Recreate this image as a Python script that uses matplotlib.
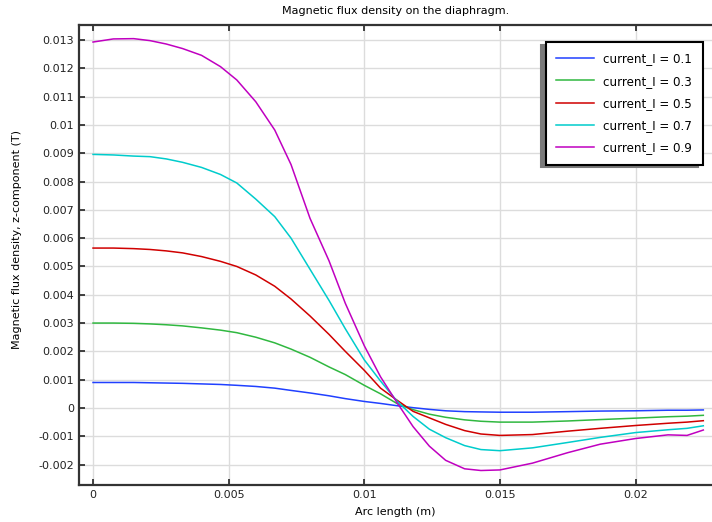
import numpy as np
import matplotlib
matplotlib.use("Agg")
import matplotlib.pyplot as plt
from matplotlib.ticker import FuncFormatter, MultipleLocator

# arc length (m)
arc = [0, 0.00075, 0.0015, 0.0021, 0.0027, 0.0033, 0.004, 0.0047, 0.0053, 0.006,
       0.0067, 0.0073, 0.008, 0.0087, 0.0093, 0.01, 0.0106, 0.0112, 0.0118, 0.0124,
       0.013, 0.0137, 0.0143, 0.015, 0.0162, 0.0175, 0.0187, 0.02, 0.0212, 0.0219, 0.0225]

bz_01 = [0.0009, 0.0009, 0.0009, 0.00089, 0.00088, 0.00087, 0.00085, 0.00083, 0.0008, 0.00076,
         0.0007, 0.00062, 0.00053, 0.00043, 0.00033, 0.00023, 0.00016, 0.00008, 0.00001, -0.00005,
         -0.0001, -0.00013, -0.00014, -0.00015, -0.00015, -0.00013, -0.00011, -0.0001, -0.00008, -0.00008, -0.00007]
bz_03 = [0.003, 0.003, 0.00299, 0.00297, 0.00294, 0.0029, 0.00283, 0.00275, 0.00266, 0.0025,
         0.0023, 0.00208, 0.00179, 0.00145, 0.00118, 0.0008, 0.0005, 0.00016, -0.00006, -0.00022,
         -0.00033, -0.00042, -0.00047, -0.0005, -0.0005, -0.00046, -0.00041, -0.00036, -0.00031, -0.00029, -0.00026]
bz_05 = [0.00565, 0.00565, 0.00563, 0.0056, 0.00555, 0.00548, 0.00535, 0.00518, 0.005, 0.0047,
         0.0043, 0.00385, 0.00325, 0.0026, 0.002, 0.00133, 0.0007, 0.00028, -0.00012, -0.00035,
         -0.00058, -0.0008, -0.00092, -0.00097, -0.00094, -0.00082, -0.00072, -0.00062, -0.00054, -0.0005, -0.00045]
bz_07 = [0.00896, 0.00894, 0.0089, 0.00888, 0.0088, 0.00868, 0.0085, 0.00825, 0.00795, 0.00738,
         0.00676, 0.006, 0.0049, 0.0038, 0.0028, 0.0017, 0.00095, 0.00025, -0.0003, -0.00075,
         -0.00105, -0.00133, -0.00147, -0.00151, -0.00141, -0.00122, -0.00104, -0.00087, -0.00077, -0.00072, -0.00063]
bz_09 = [0.01293, 0.01304, 0.01305, 0.01298, 0.01286, 0.0127, 0.01246, 0.01206, 0.01159, 0.01082,
         0.00982, 0.0086, 0.0067, 0.0052, 0.0037, 0.0022, 0.0011, 0.0002, -0.00066, -0.00135,
         -0.00185, -0.00215, -0.00221, -0.00219, -0.00195, -0.00158, -0.00128, -0.00108, -0.00095, -0.00097, -0.00078]

labels = ["current_I = 0.1", "current_I = 0.3", "current_I = 0.5", "current_I = 0.7", "current_I = 0.9"]
colors = ["#2040ff", "#30b840", "#d00000", "#00cccc", "#c000c0"]

fig = plt.figure(figsize=(7.12, 5.22), dpi=100)
ax = fig.add_axes([0.111, 0.071, 0.889, 0.881])

for y, lab, c in zip([bz_01, bz_03, bz_05, bz_07, bz_09], labels, colors):
    ax.plot(arc, y, color=c, lw=1.1, label=lab)

ax.set_xlim(-0.000516, 0.02282)
ax.set_ylim(-0.00272, 0.01353)
ax.xaxis.set_major_locator(MultipleLocator(0.005))
ax.yaxis.set_major_locator(MultipleLocator(0.001))
fmt = FuncFormatter(lambda v, p: "0" if abs(v) < 1e-12 else f"{v:g}")
ax.xaxis.set_major_formatter(fmt)
ax.yaxis.set_major_formatter(fmt)

ax.grid(True, color="#dcdcdc", lw=1)
ax.set_axisbelow(True)
for s in ["left", "bottom", "top"]:
    ax.spines[s].set_linewidth(1.6)
    ax.spines[s].set_color("#333333")
ax.spines["right"].set_visible(False)
ax.tick_params(direction="in", length=4, width=1.2, top=True, labelsize=8, colors="#222222")

ax.set_title("Magnetic flux density on the diaphragm.", fontsize=8, pad=8)
ax.set_xlabel("Arc length (m)", fontsize=8, labelpad=5.5)
ax.set_ylabel("Magnetic flux density, z-component (T)", fontsize=8)
ax.yaxis.set_label_coords(-0.09, 0.533)

leg = ax.legend(loc="upper right", bbox_to_anchor=(0.985, 0.963), borderaxespad=0,
                fontsize=8.6, handlelength=3.2, labelspacing=0.78, borderpad=0.85,
                fancybox=False, framealpha=1,
                shadow={"ox": -3.2, "oy": -1.8, "color": "#7a7a7a", "alpha": 1})
leg.get_frame().set_edgecolor("black")
leg.get_frame().set_linewidth(1.5)

fig.savefig("out.png", dpi=100)
